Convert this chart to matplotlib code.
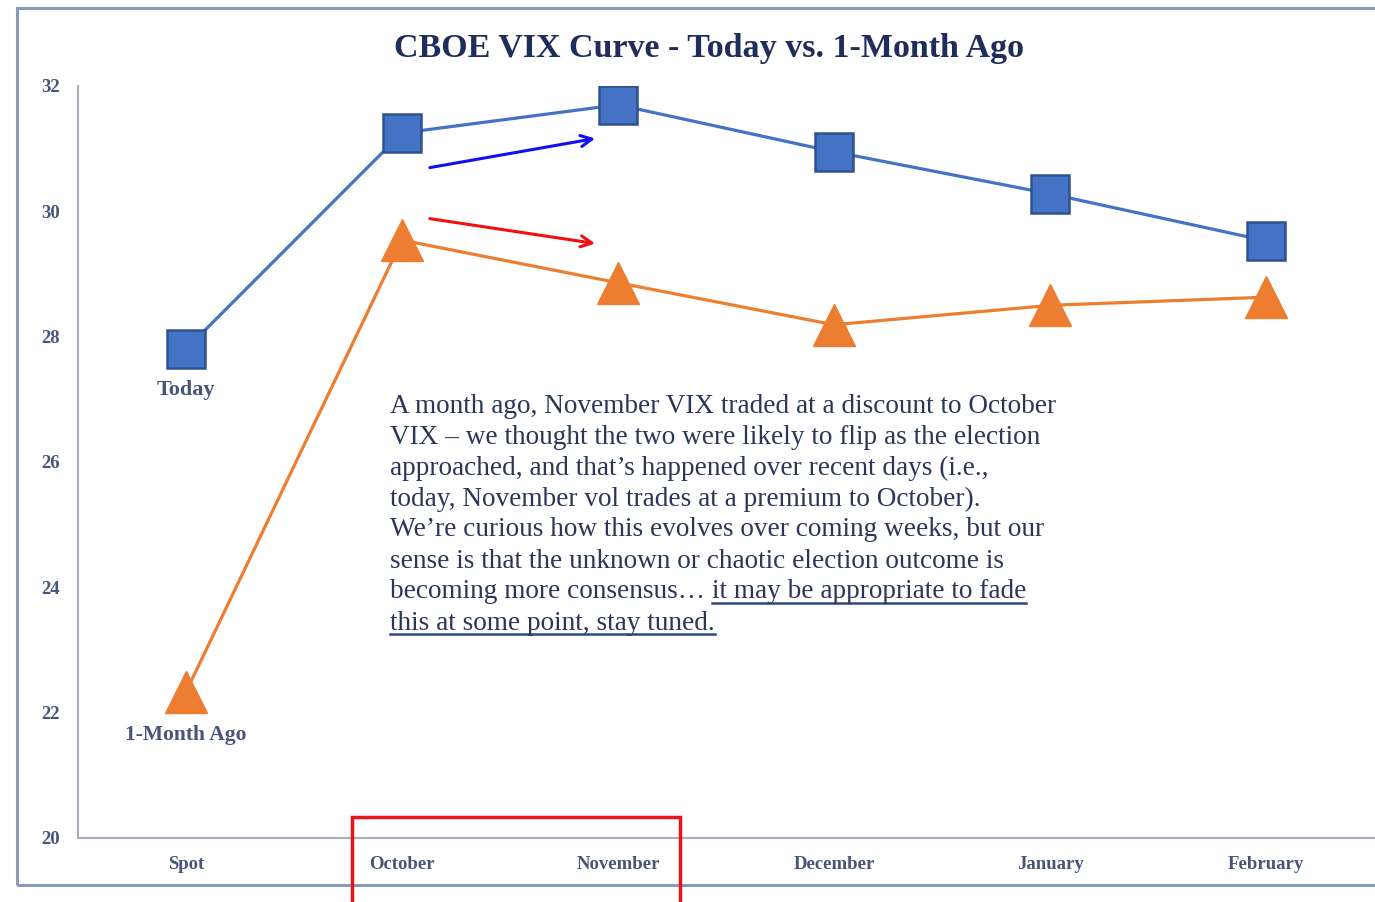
import matplotlib
matplotlib.use("Agg")
import matplotlib.pyplot as plt
from matplotlib.patches import Rectangle
from matplotlib.lines import Line2D

categories = ["Spot", "October", "November", "December", "January", "February"]
today = [27.8, 31.25, 31.7, 30.95, 30.28, 29.53]
month_ago = [22.33, 29.54, 28.86, 28.19, 28.5, 28.63]
yticks = [20, 22, 24, 26, 28, 30, 32]

note_lines = [
    "A month ago, November VIX traded at a discount to October",
    "VIX \u2013 we thought the two were likely to flip as the election",
    "approached, and that\u2019s happened over recent days (i.e.,",
    "today, November vol trades at a premium to October).",
    "We\u2019re curious how this evolves over coming weeks, but our",
    "sense is that the unknown or chaotic election outcome is",
]
note_plain7 = "becoming more consensus\u2026 "
note_under7 = "it may be appropriate to fade"
note_under8 = "this at some point, stay tuned."

W, H = 1375, 902
fig = plt.figure(figsize=(W / 100, H / 100), dpi=100)
serif = ["Liberation Serif", "DejaVu Serif"]
navy = "#1F2D5A"
tickc = "#46557A"
textc = "#2B3658"

def fx(px):
    return px / W

def fy(py):
    return 1 - py / H

ax = fig.add_axes([fx(78), fy(838), fx(1374) - fx(78), fy(86) - fy(838)])
x = list(range(len(categories)))
ax.plot(x, today, color="#4472C4", lw=2.3, marker="s", markersize=27,
        markerfacecolor="#4472C4", markeredgecolor="#2F528F", markeredgewidth=1.8, zorder=3)
ax.plot(x, month_ago, color="#ED7D31", lw=2.3, marker="^", markersize=30,
        markerfacecolor="#ED7D31", markeredgecolor="#ED7D31", zorder=3)

ax.set_xlim(-0.5, 5.5)
ax.set_ylim(20, 32)
ax.set_yticks(yticks)
ax.set_xticks(x)
ax.set_xticklabels(categories)
for s in ["top", "right"]:
    ax.spines[s].set_visible(False)
for s in ["left", "bottom"]:
    ax.spines[s].set_color("#A9AEBB")
    ax.spines[s].set_linewidth(1.5)
ax.tick_params(length=0, labelsize=13.5, labelcolor=tickc)
ax.tick_params(axis="y", pad=13)
ax.tick_params(axis="x", pad=13)
for lab in ax.get_xticklabels() + ax.get_yticklabels():
    lab.set_fontfamily(serif)
    lab.set_fontweight("bold")

# arrows
ax.annotate("", xy=(1.907, 31.17), xytext=(1.116, 30.69),
            arrowprops=dict(arrowstyle="->", color="#1010F0", lw=2.2, mutation_scale=20))
ax.annotate("", xy=(1.907, 29.48), xytext=(1.116, 29.89),
            arrowprops=dict(arrowstyle="->", color="#F01010", lw=2.2, mutation_scale=20))

# series labels
ax.text(0, 27.31, "Today", ha="center", va="top", fontsize=16, family=serif,
        color=tickc, fontweight="bold")
ax.text(0, 21.80, "1-Month Ago", ha="center", va="top", fontsize=15.5, family=serif,
        color=tickc, fontweight="bold")

# title
fig.text(fx(709), fy(48), "CBOE VIX Curve - Today vs. 1-Month Ago", ha="center", va="center",
         fontsize=24.5, fontweight="bold", family=serif, color=navy)

# note text
fs = 19.6
y0, dy = 406, 31
for i, ln in enumerate(note_lines):
    fig.text(fx(390), fy(y0 + dy * i), ln, ha="left", va="center", fontsize=fs,
             family=serif, color=textc)
t7 = fig.text(fx(390), fy(y0 + dy * 6), note_plain7, ha="left", va="center", fontsize=fs,
              family=serif, color=textc)
fig.canvas.draw()
r = fig.canvas.get_renderer()
bb = t7.get_window_extent(r)
t7u = fig.text(bb.x1 / W, fy(y0 + dy * 6), note_under7, ha="left", va="center", fontsize=fs,
               family=serif, color=textc)
t8u = fig.text(fx(390), fy(y0 + dy * 7), note_under8, ha="left", va="center", fontsize=fs,
               family=serif, color=textc)
fig.canvas.draw()
for t in (t7u, t8u):
    b = t.get_window_extent(r)
    yl = b.y0 + 2
    fig.add_artist(Line2D([b.x0 / W, b.x1 / W], [yl / H, yl / H], color="#2F4A80", lw=1.8))

# outer frame
fig.add_artist(Rectangle((fx(17), fy(885)), 2, fy(8) - fy(885), fill=False,
                         edgecolor="#8A9BB8", lw=2.2, transform=fig.transFigure))
# red box
fig.add_artist(Rectangle((fx(352), fy(910)), fx(680) - fx(352), fy(817) - fy(910), fill=False,
                         edgecolor="#E8141B", lw=2.5, transform=fig.transFigure, clip_on=False))

fig.savefig("out.png", dpi=100)
